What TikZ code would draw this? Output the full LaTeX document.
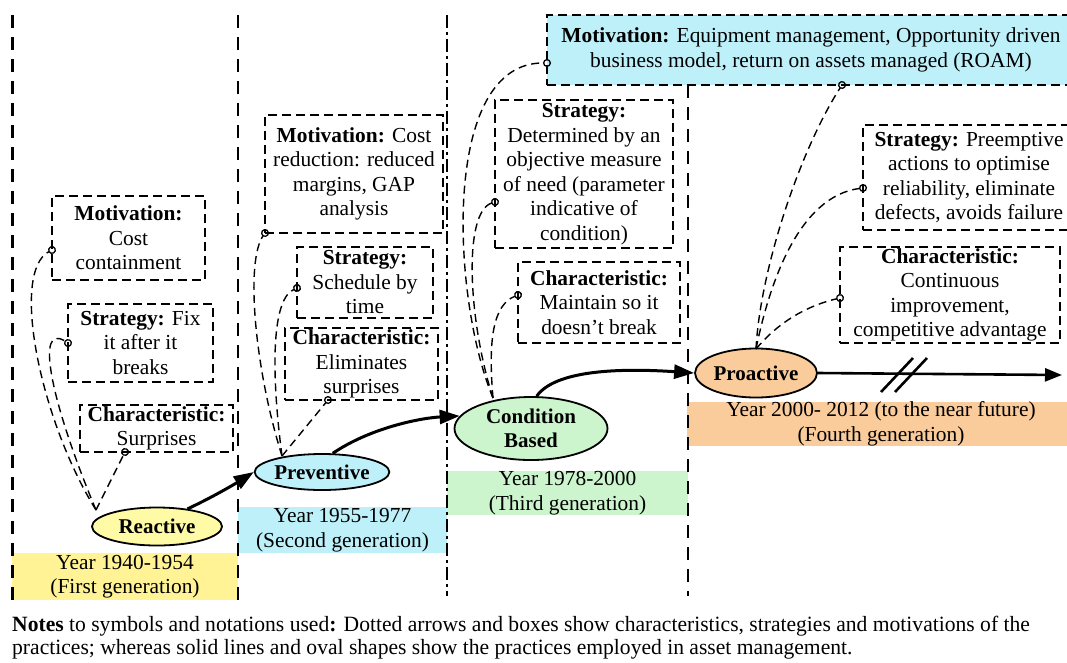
\documentclass[tikz,border=0pt]{standalone}
\usepackage{fontspec}
\setmainfont{Liberation Serif}
\newfontfamily\notefont[FakeStretch=0.99]{Liberation Serif}
\usetikzlibrary{shapes.geometric,arrows.meta}
\definecolor{yelbox}{RGB}{255,243,150}
\definecolor{yelell}{RGB}{255,250,165}
\definecolor{cyanbox}{RGB}{190,240,250}
\definecolor{grnbox}{RGB}{205,245,205}
\definecolor{orgbox}{RGB}{250,203,155}
\tikzset{
  txt/.style={font=\fontsize{21.4}{24.5}\selectfont},
  dbox/.style={txt, draw, line width=1.4pt, dash pattern=on 9pt off 5pt, inner sep=0pt, align=center, rectangle},
  yrbox/.style={txt, inner sep=0pt, align=center, rectangle},
  phase/.style={font=\fontsize{21}{24}\selectfont\bfseries, ellipse, draw, line width=1.8pt, inner sep=0pt, align=center},
  vline/.style={line width=2.6pt, dash pattern=on 13pt off 9pt},
  conn/.style={line width=1.4pt, dash pattern=on 8pt off 5pt, -{Circle[open,length=8pt,width=8pt,line width=1.3pt]}, shorten >=-4pt},
  flow/.style={line width=3pt, -{Triangle[length=20pt,width=14pt]}},
}
\begin{document}
\begin{tikzpicture}[x=1pt,y=-1pt]
\useasboundingbox (0,0) rectangle (1067,662);
\clip (0,0) rectangle (1067,662);
\fill[white] (0,0) rectangle (1067,662);

% year boxes
\node[yrbox, fill=yelbox, minimum width=226pt, minimum height=47pt] (yr1) at (125,576.5) {Year 1940-1954\\(First generation)};
\node[yrbox, fill=cyanbox, minimum width=209pt, minimum height=46pt] (yr2) at (342.5,530) {Year 1955-1977\\(Second generation)};
\node[yrbox, fill=grnbox, minimum width=241pt, minimum height=40pt] (yr3) at (567.5,493) {Year 1978-2000\\(Third generation)};
\node[yrbox, fill=orgbox, minimum width=388pt, minimum height=42pt] (yr4) at (881,424) {Year 2000- 2012 (to the near future)\\(Fourth generation)};

% motivation box of third generation (filled)
\node[dbox, fill=cyanbox, minimum width=528pt, minimum height=70pt] (mot3) at (811,50) {\textbf{Motivation:} Equipment management, Opportunity driven\\business model, return on assets managed (ROAM)};

% vertical separators
\coordinate (v1t) at (12,15);  \coordinate (v1b) at (12,600);
\coordinate (v2t) at (238,15); \coordinate (v2b) at (238,600);
\coordinate (v3t) at (447,15); \coordinate (v3b) at (447,596);
\coordinate (v4t) at (688,85); \coordinate (v4b) at (688,596);
\draw[vline, line width=3pt] (v1t) -- (v1b);
\draw[vline] (v2t) -- (v2b);
\draw[line width=2.2pt, dash pattern=on 13pt off 4pt on 3pt off 4pt] (v3t) -- (v3b);
\draw[vline] (v4t) -- (v4b);

% first generation boxes
\node[dbox, minimum width=153pt, minimum height=84pt] (mot1) at (128.5,238) {\textbf{Motivation:}\\Cost\\containment};
\node[dbox, minimum width=145pt, minimum height=78pt] (str1) at (140.5,343) {\textbf{Strategy:} Fix\\it after it\\breaks};
\node[dbox, minimum width=153pt, minimum height=47pt] (chr1) at (156.5,428.5) {\textbf{Characteristic:}\\Surprises};

% second generation boxes
\node[dbox, minimum width=178pt, minimum height=118pt] (mot2) at (354,174) {\textbf{Motivation:} Cost\\reduction: reduced\\margins, GAP\\analysis};
\node[dbox, minimum width=136pt, minimum height=71pt] (str2) at (365,282.5) {\textbf{Strategy:}\\Schedule by\\time};
\node[dbox, minimum width=153pt, minimum height=72pt] (chr2) at (361.5,364) {\textbf{Characteristic:}\\Eliminates\\surprises};

% third generation boxes
\node[dbox, minimum width=178pt, minimum height=148pt] (str3) at (584,174) {\textbf{Strategy:}\\Determined by an\\objective measure\\of need (parameter\\indicative of\\condition)};
\node[dbox, minimum width=162pt, minimum height=81pt] (chr3) at (599,302.5) {\textbf{Characteristic:}\\Maintain so it\\doesn’t break};

% fourth generation boxes
\node[dbox, minimum width=212pt, minimum height=105pt] (str4) at (969,177.5) {\textbf{Strategy:} Preemptive\\actions to optimise\\reliability, eliminate\\defects, avoids failure};
\node[dbox, minimum width=220pt, minimum height=96pt] (chr4) at (950,295) {\textbf{Characteristic:}\\Continuous\\improvement,\\competitive advantage};

% phases
\node[phase, fill=yelell, minimum width=130pt, minimum height=38pt] (ell1) at (157,526.5) {Reactive};
\node[phase, fill=cyanbox, minimum width=121pt, minimum height=36pt] (ell2) at (322,472) {Preventive};
\node[phase, fill=grnbox, minimum width=153pt, minimum height=63pt] (ell3) at (531,428.5) {Condition\\Based};
\node[phase, fill=orgbox, minimum width=122pt, minimum height=49pt] (ell4) at (756,373) {Proactive};

% connector end points
\coordinate (p1) at (96,510);
\coordinate (p2) at (282,456);
\coordinate (p3) at (493,398);
\coordinate (p4) at (756,349);
\coordinate (m1c) at (52,250);  \coordinate (s1c) at (68,343);  \coordinate (c1c) at (125,452);
\coordinate (m2c) at (265,233); \coordinate (s2c) at (297,288); \coordinate (c2c) at (328,400);
\coordinate (m3c) at (547,63);  \coordinate (s3c) at (495,202); \coordinate (c3c) at (518,295);
\coordinate (m4c) at (842,85);  \coordinate (s4c) at (863,188); \coordinate (c4c) at (840,298);

% dashed connectors
\draw[conn] (p1) .. controls (40,420) and (10,272) .. (m1c);
\draw[conn] (p1) .. controls (50,400) and (35,322) .. (s1c);
\draw[conn] (p1) -- (c1c);
\draw[conn] (p2) .. controls (255,370) and (245,262) .. (m2c);
\draw[conn] (p2) .. controls (272,380) and (270,300) .. (s2c);
\draw[conn] (p2) -- (c2c);
\draw[conn] (p3) .. controls (452,300) and (440,62) .. (m3c);
\draw[conn] (p3) .. controls (468,320) and (463,212) .. (s3c);
\draw[conn] (p3) .. controls (488,340) and (493,305) .. (c3c);
\draw[conn] (p4) .. controls (760,270) and (800,150) .. (m4c);
\draw[conn] (p4) .. controls (770,280) and (800,196) .. (s4c);
\draw[conn] (p4) .. controls (780,320) and (810,305) .. (c4c);

% phase flow
\draw[flow] (ell1.30) .. controls (215,496) and (238,482) .. (ell2.west);
\draw[flow] (ell2.60) .. controls (370,428) and (420,418) .. (ell3.170);
\draw[flow] (ell3.80) .. controls (555,370) and (620,368) .. (ell4.west);
\coordinate (fut) at (1062,375);
\draw[line width=2.6pt, -{Triangle[length=17pt,width=13pt]}] (ell4.east) -- (fut);
\draw[line width=2.6pt] (881,392) -- (913,358) (895,392) -- (927,358);

% notes
\node[anchor=north west, align=left, inner sep=0pt, font=\notefont\fontsize{21.8}{23}\selectfont] (notes) at (12,616) {\textbf{Notes} to symbols and notations used\textbf{:} Dotted arrows and boxes show characteristics, strategies and motivations of the\\practices; whereas solid lines and oval shapes show the practices employed in asset management.};
\end{tikzpicture}
\end{document}
